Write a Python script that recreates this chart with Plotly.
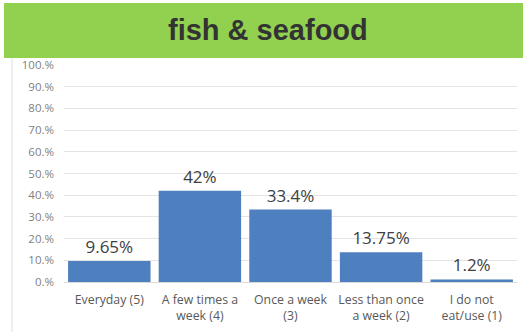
import plotly.graph_objects as go

categories = ["Everyday (5)", "A few times a<br>week (4)", "Once a week<br>(3)", "Less than once<br>a week (2)", "I do not<br>eat/use (1)"]
values = [9.65, 42, 33.4, 13.75, 1.2]
value_labels = ["9.65%", "42%", "33.4%", "13.75%", "1.2%"]
tick_vals = [0, 10, 20, 30, 40, 50, 60, 70, 80, 90, 100]
tick_text = ["0.%", "10.%", "20.%", "30.%", "40.%", "50.%", "60.%", "70.%", "80.%", "90.%", "100.%"]
title = "fish & seafood"

fig = go.Figure(go.Bar(
    x=categories, y=values, text=value_labels, textposition="outside",
    textfont=dict(size=17, color="#404040", family="Open Sans, Arial"),
    marker=dict(color="#4E7FBE", line=dict(width=0)),
    cliponaxis=False,
))

W, H = 523, 332
l, r, t, b = 64, 6, 65, 50
pw, ph = W - l - r, H - t - b

def px_x(x):
    return (x - l) / pw

def px_y(y):
    return (H - b - y) / ph

fig.update_layout(
    width=W, height=H, margin=dict(l=l, r=r, t=t, b=b, autoexpand=False),
    paper_bgcolor="white", plot_bgcolor="white",
    bargap=0.09, showlegend=False,
    xaxis=dict(tickfont=dict(size=12.3, color="#595959", family="Open Sans, Arial"),
               showline=True, linecolor="#D9D9D9", ticks="", showgrid=False,
               automargin=False, ticklabelstandoff=6),
    yaxis=dict(range=[0, 100], tickvals=tick_vals, ticktext=tick_text,
               tickfont=dict(size=11.5, color="#7F7F7F", family="Open Sans, Arial"),
               showgrid=True, gridcolor="#E4E4E4", zeroline=False, ticks="", ticklen=0,
               automargin=False, ticklabelstandoff=9),
    shapes=[
        dict(type="rect", xref="paper", yref="paper",
             x0=px_x(4), x1=px_x(523), y0=px_y(58), y1=px_y(3),
             fillcolor="#92D050", line=dict(width=0), layer="below"),
        dict(type="line", xref="paper", yref="paper",
             x0=px_x(12), x1=px_x(12), y0=px_y(332), y1=px_y(58),
             line=dict(color="#E0E0E0", width=1)),
    ],
    annotations=[
        dict(text="<b>" + title + "</b>", xref="paper", yref="paper",
             x=px_x(268), y=px_y(30), showarrow=False,
             font=dict(size=29, color="#333333", family="Liberation Sans, Arial"),
             xanchor="center", yanchor="middle"),
    ],
)

fig.write_html("out.html", config={"displayModeBar": False},
               post_script="document.body.style.margin='0';document.body.style.overflow='hidden';")
